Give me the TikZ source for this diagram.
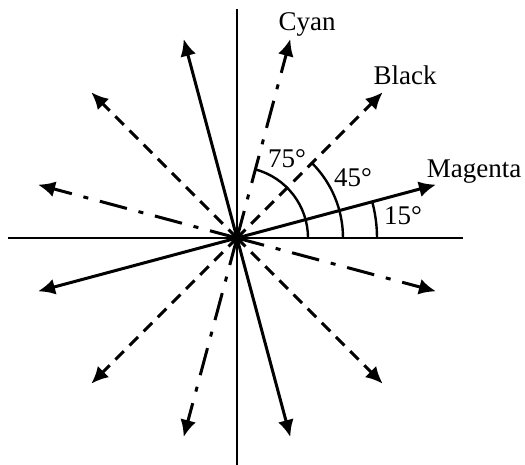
\documentclass[tikz,border=0pt]{standalone}
\usepackage{fontspec}
\setmainfont{Liberation Serif}
\usetikzlibrary{arrows.meta}
\tikzset{every picture/.style={line width=1pt}}
\tikzset{
  ray/.style={line width=1.5pt,-{Latex[length=8.5pt,width=8pt]}},
  magray/.style={ray},
  blackray/.style={ray,dash pattern=on 6pt off 4pt},
  cyanray/.style={ray,dash pattern=on 14pt off 6pt on 2.5pt off 6pt},
  anglearc/.style={line width=1.2pt},
  lbl/.style={font=\fontsize{13.5}{16}\selectfont,inner sep=0pt,anchor=base}
}

\begin{document}
\begin{tikzpicture}[x=0.5pt,y=0.5pt]
\useasboundingbox (-237,-227) rectangle (288,238);
\coordinate (O) at (0,0);
\draw (-229,0) -- (226,0);
\draw (0,229) -- (0,-227);
\foreach \a/\st in {15/magray,105/magray,195/magray,285/magray,
  45/blackray,135/blackray,225/blackray,315/blackray,
  75/cyanray,165/cyanray,255/cyanray,345/cyanray}{
  \coordinate (tip\a) at (\a:206);
  \draw[\st] (O) -- (tip\a);
}
\draw[anglearc] (140,0) arc[start angle=0,end angle=15,radius=140];
\draw[anglearc] (106,0) arc[start angle=0,end angle=45,radius=106];
\draw[anglearc] (71,0) arc[start angle=0,end angle=75,radius=71];
\node[lbl] (cyan) at (70,207) {Cyan};
\node[lbl] (black) at (168,153) {Black};
\node[lbl] (magenta) at (237,60) {Magenta};
\node[lbl] (a75) at (50,70) {75°};
\node[lbl] (a45) at (116,51) {45°};
\node[lbl] (a15) at (166,13) {15°};
\end{tikzpicture}
\end{document}
